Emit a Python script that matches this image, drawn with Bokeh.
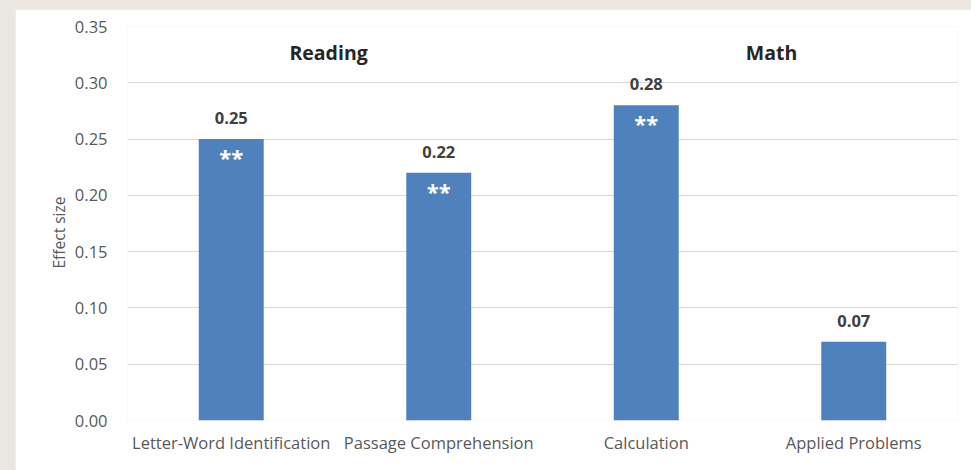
from bokeh.plotting import figure
from bokeh.models import Range1d, FixedTicker, NumeralTickFormatter, ColumnDataSource, Label, Title
from bokeh.embed import file_html
from bokeh.resources import INLINE
from bokeh.core.properties import value

# ---- data ----
categories = ["Letter-Word Identification", "Passage Comprehension", "Calculation", "Applied Problems"]
effect_sizes = [0.25, 0.22, 0.28, 0.07]
value_labels = ["0.25", "0.22", "0.28", "0.07"]
significance = ["**", "**", "**", ""]
group_names = ["Reading", "Math"]
y_ticks = [0.00, 0.05, 0.10, 0.15, 0.20, 0.25, 0.30, 0.35]

FONT = "Open Sans"
BAR = "#4F81BD"
GRAY = "#595959"
BEIGE = "#EAE7E1"

xs = [i + 0.5 for i in range(len(categories))]
src = ColumnDataSource(dict(x=xs, top=effect_sizes, lab=value_labels, sig=significance))

p = figure(width=956, height=461, output_backend="svg", toolbar_location=None,
           x_range=Range1d(0, len(categories)), y_range=Range1d(0, 0.35),
           min_border_left=112, min_border_right=14, min_border_top=17, min_border_bottom=50)
p.outline_line_color = None
p.background_fill_color = "white"
p.border_fill_color = "white"

p.vbar(x="x", top="top", width=0.313, source=src, fill_color=BAR, line_color=None)

p.text(x="x", y="top", text="lab", source=src, text_align="center", text_baseline="middle",
       y_offset=-21, text_font=value(FONT), text_font_style="bold", text_font_size="16.5px",
       text_color="#404040")
p.text(x="x", y="top", text="sig", source=src, text_align="center", text_baseline="middle",
       y_offset=18, text_font=value(FONT), text_font_style="bold", text_font_size="22px",
       text_color="white")

# group headings
for name, gx in zip(group_names, [0.969, 3.104]):
    p.add_layout(Label(x=gx, y=0.327, text=name, text_align="center", text_baseline="middle",
                       text_font=FONT, text_font_style="bold", text_font_size="19.5px",
                       text_color="#262626"))

# y axis title
p.add_layout(Title(text="Effect size", align="left", offset=152, standoff=4,
                   text_font=FONT, text_font_style="normal", text_font_size="15.5px",
                   text_color=GRAY), "left")

# y axis
p.yaxis.ticker = FixedTicker(ticks=y_ticks)
p.yaxis.formatter = NumeralTickFormatter(format="0.00")
p.yaxis.axis_line_color = None
p.yaxis.major_tick_line_color = None
p.yaxis.minor_tick_line_color = None
p.yaxis.major_label_standoff = 14
p.yaxis.major_label_text_font = FONT
p.yaxis.major_label_text_font_size = "16.5px"
p.yaxis.major_label_text_color = GRAY

# x axis
p.xaxis.ticker = FixedTicker(ticks=xs)
p.xaxis.major_label_overrides = {x: c for x, c in zip(xs, categories)}
p.xaxis.axis_line_color = None
p.xaxis.major_tick_line_color = None
p.xaxis.minor_tick_line_color = None
p.xaxis.major_label_standoff = 4
p.xaxis.major_label_text_font = FONT
p.xaxis.major_label_text_font_size = "16.5px"
p.xaxis.major_label_text_color = GRAY

p.xgrid.grid_line_color = None
p.ygrid.grid_line_color = "#D9D9D9"
p.ygrid.grid_line_width = 1

css = ("<style>html{background:" + BEIGE + ";overflow:hidden;}body{overflow:hidden;"
       "margin:9px 0 0 15px !important;background:" + BEIGE + ";}</style></head>")
open("out.html", "w").write(file_html(p, INLINE).replace("</head>", css, 1))
